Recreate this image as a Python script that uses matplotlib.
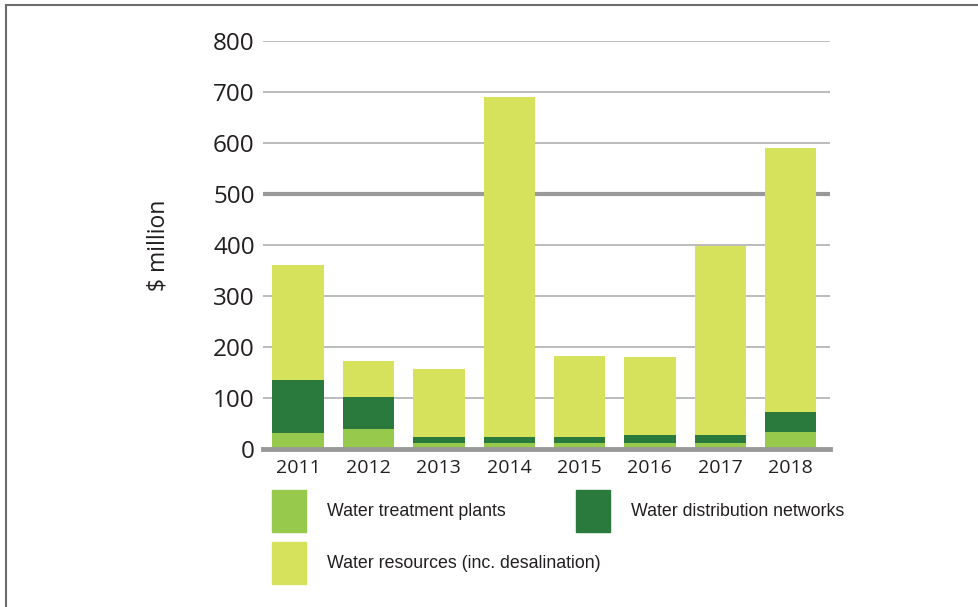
import matplotlib
matplotlib.use("Agg")
import matplotlib.pyplot as plt
from matplotlib.patches import Rectangle
from matplotlib.lines import Line2D

years = ["2011", "2012", "2013", "2014", "2015", "2016", "2017", "2018"]
treatment = [31, 39, 12, 12, 12, 12, 12, 33]
distribution = [104, 63, 12, 12, 12, 15, 15, 40]
resources = [226, 70, 133, 666, 158, 153, 371, 517]

labels = ["Water treatment plants", "Water distribution networks",
          "Water resources (inc. desalination)"]
colors = ["#96c94c", "#2a7a3e", "#d6e15c"]

W, H = 979, 607
fig = plt.figure(figsize=(W / 100, H / 100), dpi=100)

ax = fig.add_axes([263 / W, (H - 449) / H, (830 - 263) / W, (449 - 41) / H])
x = list(range(len(years)))
bw = 0.73
b1 = treatment
b2 = [a + b for a, b in zip(treatment, distribution)]
ax.bar(x, treatment, width=bw, color=colors[0], zorder=3)
ax.bar(x, distribution, width=bw, bottom=b1, color=colors[1], zorder=3)
ax.bar(x, resources, width=bw, bottom=b2, color=colors[2], zorder=3)

ax.set_xlim(-0.5, 7.56)
ax.set_ylim(0, 800)
ax.set_yticks(range(0, 801, 100))
ax.set_xticks(x)
ax.set_xticklabels(years)
for s in ax.spines.values():
    s.set_visible(False)
for yv in range(100, 801, 100):
    if yv == 500:
        ax.axhline(yv, color="#999999", lw=3, zorder=1)
    else:
        ax.axhline(yv, color="#b0b0b0", lw=1.2, zorder=1)
ax.axhline(0, color="#999999", lw=3.5, zorder=4, clip_on=False)

numfont = ["Open Sans", "DejaVu Sans"]
ax.tick_params(axis="y", length=0, pad=6, labelsize=17.5, labelcolor="#231f20")
ax.tick_params(axis="x", length=0, pad=7, labelsize=14, labelcolor="#231f20")
for t in ax.get_yticklabels() + ax.get_xticklabels():
    t.set_family(numfont)
ax.set_ylabel("$ million", fontsize=16.5, color="#231f20", family=numfont)
ax.yaxis.set_label_coords((171 - 263) / (830 - 263), 0.5)

# legend
legfont = ["Liberation Sans Narrow", "Liberation Sans", "DejaVu Sans"]
items = [(272, 490, 0), (576, 490, 1), (272, 542, 2)]
for px, py, i in items:
    fig.patches.append(Rectangle((px / W, (H - py - 42) / H), 34 / W, 42 / H,
                                 transform=fig.transFigure, color=colors[i]))
    fig.text((px + 55) / W, (H - py - 21) / H, labels[i], fontsize=12.8,
             family=legfont, color="#231f20", va="center", ha="left")

# frame
fig.add_artist(Line2D([6.5 / W, 6.5 / W], [0, (H - 5) / H], color="#6d6d6d", lw=1.5,
                      transform=fig.transFigure))
fig.add_artist(Line2D([6.5 / W, 1], [(H - 5) / H, (H - 5) / H], color="#6d6d6d", lw=1.5,
                      transform=fig.transFigure))

fig.savefig("out.png", dpi=100)
